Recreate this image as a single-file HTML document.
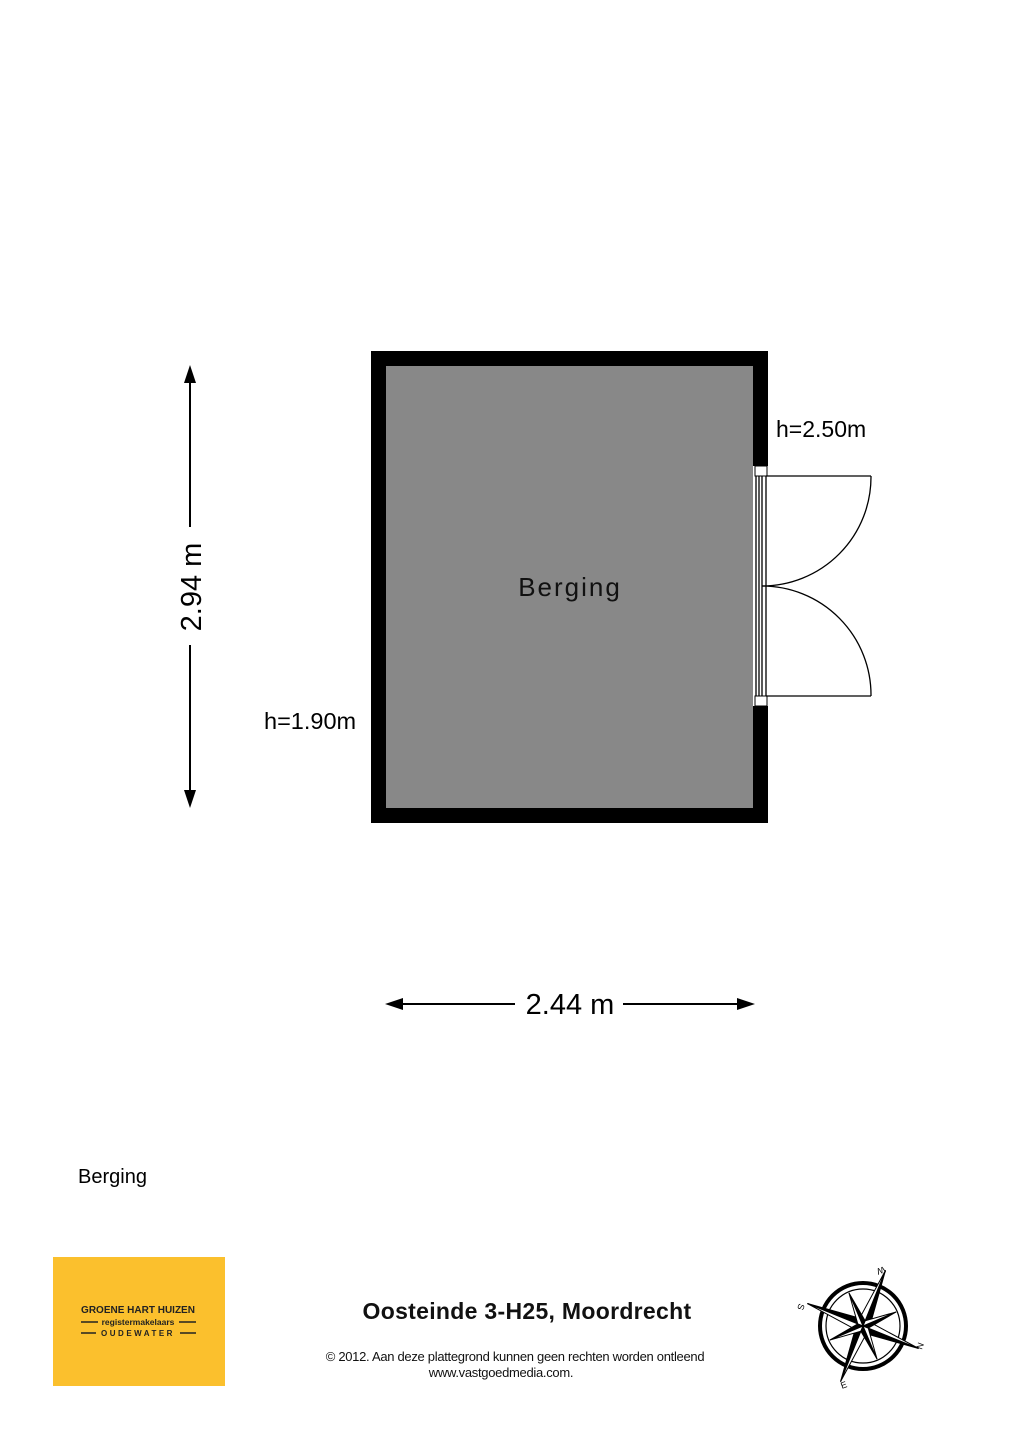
<!DOCTYPE html>
<html><head><meta charset="utf-8"><style>
body{margin:0;background:#fff;}
svg{display:block;}
text{font-family:"Liberation Sans",Arial,sans-serif;}
</style></head><body>
<svg width="1018" height="1440" viewBox="0 0 1018 1440" xmlns="http://www.w3.org/2000/svg">
<rect x="371" y="351" width="397" height="472" fill="#000"/>
<rect x="386" y="366" width="367" height="442" fill="#888"/>
<rect x="753" y="466" width="15" height="240" fill="#fff"/>
<rect x="755" y="466" width="12" height="10" fill="#fff" stroke="#000" stroke-width="1"/>
<rect x="755" y="696" width="12" height="10" fill="#fff" stroke="#000" stroke-width="1"/>
<g stroke="#000" stroke-width="1.3" fill="none">
<line x1="756" y1="476" x2="756" y2="696"/>
<line x1="759" y1="476" x2="759" y2="696"/>
<line x1="762" y1="476" x2="762" y2="696"/>
<line x1="766" y1="476" x2="766" y2="696"/>
<line x1="766" y1="476" x2="871" y2="476"/>
<line x1="766" y1="696" x2="871" y2="696"/>
<path d="M871 476 A109 109 0 0 1 762 586"/>
<path d="M762 586 A109 109 0 0 1 871 696"/>
</g>
<text x="570" y="596" font-size="26" text-anchor="middle" letter-spacing="2" fill="#111">Berging</text>
<text x="776" y="437" font-size="23" fill="#000">h=2.50m</text>
<text x="264" y="729" font-size="23.5" fill="#000">h=1.90m</text>
<line x1="190" y1="378" x2="190" y2="527" stroke="#000" stroke-width="2"/>
<line x1="190" y1="645" x2="190" y2="795" stroke="#000" stroke-width="2"/>
<polygon points="190,365 184,383 196,383" fill="#000"/>
<polygon points="190,808 184,790 196,790" fill="#000"/>
<text transform="translate(201,587) rotate(-90)" font-size="29" text-anchor="middle" fill="#000">2.94 m</text>
<line x1="398" y1="1004" x2="515" y2="1004" stroke="#000" stroke-width="2"/>
<line x1="623" y1="1004" x2="742" y2="1004" stroke="#000" stroke-width="2"/>
<polygon points="385,1004 403,998 403,1010" fill="#000"/>
<polygon points="755,1004 737,998 737,1010" fill="#000"/>
<text x="570" y="1014" font-size="29" text-anchor="middle" fill="#000">2.44 m</text>
<text x="78" y="1183" font-size="20" fill="#000">Berging</text>
<rect x="53" y="1257" width="172" height="129" fill="#fbc02d"/>
<text x="138" y="1313" font-size="10" font-weight="bold" text-anchor="middle" fill="#222">GROENE HART HUIZEN</text>
<text x="138" y="1325" font-size="8.5" font-weight="bold" text-anchor="middle" fill="#222">registermakelaars</text>
<text x="138" y="1336" font-size="8" font-weight="bold" text-anchor="middle" letter-spacing="2.5" fill="#222">OUDEWATER</text>
<g stroke="#222" stroke-width="1.5"><line x1="81" y1="1322" x2="98" y2="1322"/><line x1="179" y1="1322" x2="196" y2="1322"/><line x1="81" y1="1333" x2="96" y2="1333"/><line x1="180" y1="1333" x2="196" y2="1333"/></g>
<text x="527" y="1319" font-size="23" font-weight="bold" text-anchor="middle" fill="#111" letter-spacing="0.3">Oosteinde 3-H25, Moordrecht</text>
<text x="515" y="1361" font-size="13" text-anchor="middle" fill="#111" letter-spacing="-0.3">© 2012. Aan deze plattegrond kunnen geen rechten worden ontleend</text>
<text x="501" y="1377" font-size="13" text-anchor="middle" fill="#111" letter-spacing="-0.3">www.vastgoedmedia.com.</text>
<g transform="translate(863,1326)">
<circle r="43" fill="none" stroke="#000" stroke-width="4"/>
<circle r="37" fill="none" stroke="#000" stroke-width="1.2"/>
<g transform="rotate(22)">
<g fill="#000" stroke="#000" stroke-width="1">
<polygon points="0,-60 6,-6 0,0"/><polygon points="0,-60 -6,-6 0,0" fill="#fff"/>
<polygon points="0,60 -6,6 0,0"/><polygon points="0,60 6,6 0,0" fill="#fff"/>
<polygon points="-60,0 -6,-6 0,0"/><polygon points="-60,0 -6,6 0,0" fill="#fff"/>
<polygon points="60,0 6,6 0,0"/><polygon points="60,0 6,-6 0,0" fill="#fff"/>
<g transform="rotate(45)">
<polygon points="0,-36 4,-4 0,0"/><polygon points="0,-36 -4,-4 0,0" fill="#fff"/>
<polygon points="0,36 -4,4 0,0"/><polygon points="0,36 4,4 0,0" fill="#fff"/>
<polygon points="-36,0 -4,-4 0,0"/><polygon points="-36,0 -4,4 0,0" fill="#fff"/>
<polygon points="36,0 4,4 0,0"/><polygon points="36,0 4,-4 0,0" fill="#fff"/>
</g></g></g>
<text x="22" y="-54" font-size="9" font-family="Liberation Serif" transform="rotate(160 22 -57)">W</text>
<text x="-61" y="-19" font-size="9" font-family="Liberation Serif" transform="rotate(110 -61 -22)">S</text>
<text x="56" y="26" font-size="9" font-family="Liberation Serif" transform="rotate(-70 56 23)">N</text>
<text x="-22" y="63" font-size="9" font-family="Liberation Serif" transform="rotate(-20 -22 60)">E</text>
</g>
</svg>
</body></html>
